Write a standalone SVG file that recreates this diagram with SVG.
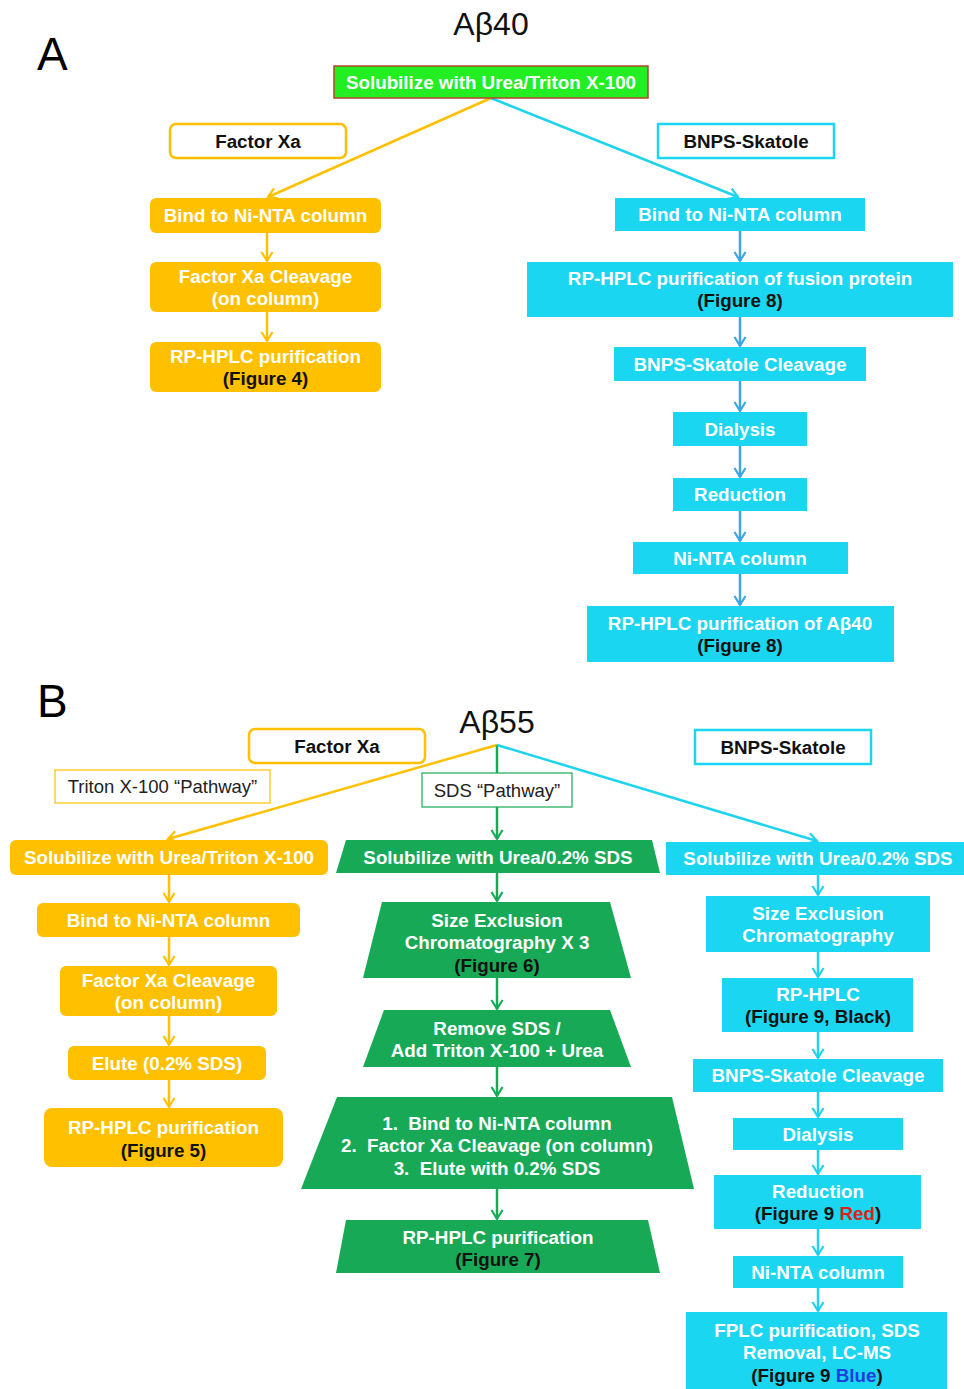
<svg xmlns="http://www.w3.org/2000/svg" width="964" height="1389" viewBox="0 0 964 1389">
<style>
text{font-family:"Liberation Sans",Arial,sans-serif}
.big{font-size:46px;fill:#000}
.ttl{font-size:32px;fill:#111;text-anchor:middle}
.t{font-size:18.8px;font-weight:bold;fill:#fff;text-anchor:middle}
.k{fill:#111}
.lab{font-size:18.8px;font-weight:bold;fill:#111;text-anchor:middle}
.pw{font-size:18.5px;fill:#222;text-anchor:middle}
.or{fill:#ffc000}
.cy{fill:#1bd6f0}
.gr{fill:#18a957}
.lo{fill:none;stroke:#ffc000;stroke-width:2.5}
.lc{fill:none;stroke:#1dd3ee;stroke-width:2.5}
.lb{fill:none;stroke:#3aa6e4;stroke-width:2.5}
.lg{fill:none;stroke:#18a957;stroke-width:2.5}
</style>
<defs>
<marker id="ao" markerWidth="14" markerHeight="14" refX="11" refY="7" orient="auto" markerUnits="userSpaceOnUse"><path d="M2,1.5 L11,7 L2,12.5" fill="none" stroke="#ffc000" stroke-width="2.2"/></marker>
<marker id="ac" markerWidth="14" markerHeight="14" refX="11" refY="7" orient="auto" markerUnits="userSpaceOnUse"><path d="M2,1.5 L11,7 L2,12.5" fill="none" stroke="#1dd3ee" stroke-width="2.2"/></marker>
<marker id="ab" markerWidth="14" markerHeight="14" refX="11" refY="7" orient="auto" markerUnits="userSpaceOnUse"><path d="M2,1.5 L11,7 L2,12.5" fill="none" stroke="#3aa6e4" stroke-width="2.2"/></marker>
<marker id="ag" markerWidth="14" markerHeight="14" refX="11" refY="7" orient="auto" markerUnits="userSpaceOnUse"><path d="M2,1.5 L11,7 L2,12.5" fill="none" stroke="#18a957" stroke-width="2.2"/></marker>
</defs>
<rect width="964" height="1389" fill="#fff"/>

<text class="big" x="37" y="70">A</text>
<text class="ttl" x="491" y="35">Aβ40</text>
<text class="big" x="37" y="717">B</text>
<text class="ttl" x="497" y="733">Aβ55</text>

<g id="connectors">
<line class="lo" x1="491" y1="98" x2="268" y2="197" marker-end="url(#ao)"/>
<line class="lc" x1="491" y1="98" x2="738" y2="197" marker-end="url(#ac)"/>
<line class="lo" x1="267" y1="233" x2="267" y2="261" marker-end="url(#ao)"/>
<line class="lo" x1="267" y1="312" x2="267" y2="341" marker-end="url(#ao)"/>
<line class="lb" x1="740" y1="231" x2="740" y2="261" marker-end="url(#ab)"/>
<line class="lb" x1="740" y1="317" x2="740" y2="346" marker-end="url(#ab)"/>
<line class="lb" x1="740" y1="381" x2="740" y2="411" marker-end="url(#ab)"/>
<line class="lb" x1="740" y1="446" x2="740" y2="477" marker-end="url(#ab)"/>
<line class="lb" x1="740" y1="511" x2="740" y2="541" marker-end="url(#ab)"/>
<line class="lb" x1="740" y1="574" x2="740" y2="605" marker-end="url(#ab)"/>

<line class="lo" x1="497" y1="745" x2="168" y2="839" marker-end="url(#ao)"/>
<line class="lg" x1="497" y1="745" x2="497" y2="839" marker-end="url(#ag)"/>
<line class="lc" x1="497" y1="745" x2="817" y2="841" marker-end="url(#ac)"/>
<line class="lo" x1="169" y1="875" x2="169" y2="902" marker-end="url(#ao)"/>
<line class="lo" x1="169" y1="937" x2="169" y2="965" marker-end="url(#ao)"/>
<line class="lo" x1="169" y1="1016" x2="169" y2="1045" marker-end="url(#ao)"/>
<line class="lo" x1="169" y1="1080" x2="169" y2="1107" marker-end="url(#ao)"/>
<line class="lg" x1="497" y1="873" x2="497" y2="901" marker-end="url(#ag)"/>
<line class="lg" x1="497" y1="978" x2="497" y2="1009" marker-end="url(#ag)"/>
<line class="lg" x1="497" y1="1067" x2="497" y2="1096" marker-end="url(#ag)"/>
<line class="lg" x1="497" y1="1189" x2="497" y2="1219" marker-end="url(#ag)"/>
<line class="lc" x1="818" y1="875" x2="818" y2="895" marker-end="url(#ac)"/>
<line class="lc" x1="818" y1="952" x2="818" y2="977" marker-end="url(#ac)"/>
<line class="lc" x1="818" y1="1032" x2="818" y2="1058" marker-end="url(#ac)"/>
<line class="lc" x1="818" y1="1092" x2="818" y2="1117" marker-end="url(#ac)"/>
<line class="lc" x1="818" y1="1150" x2="818" y2="1174" marker-end="url(#ac)"/>
<line class="lc" x1="818" y1="1229" x2="818" y2="1255" marker-end="url(#ac)"/>
<line class="lc" x1="818" y1="1288" x2="818" y2="1311" marker-end="url(#ac)"/>
</g>

<!-- Part A -->
<g id="a-root"><rect x="334" y="66" width="314" height="32" fill="#22ee22" stroke="#b5452a" stroke-width="1.5"/><text class="t" x="491" y="88.5">Solubilize with Urea/Triton X-100</text></g>
<g id="a-factorxa"><rect x="170" y="124" width="176" height="34" rx="6" fill="#fff" stroke="#ffc000" stroke-width="2.5"/><text class="lab" x="258" y="148">Factor Xa</text></g>
<g id="a-bnps"><rect x="658" y="124" width="176" height="34" fill="#fff" stroke="#1bd6f0" stroke-width="2.5"/><text class="lab" x="746" y="148">BNPS-Skatole</text></g>

<g id="a-l1"><rect class="or" x="150" y="198" width="231" height="35" rx="6"/><text class="t" x="265.5" y="222">Bind to Ni-NTA column</text></g>
<g id="a-l2"><rect class="or" x="150" y="262" width="231" height="50" rx="6"/><text class="t" x="265.5" y="283">Factor Xa Cleavage</text><text class="t" x="265.5" y="305">(on column)</text></g>
<g id="a-l3"><rect class="or" x="150" y="342" width="231" height="50" rx="6"/><text class="t" x="265.5" y="363">RP-HPLC purification</text><text class="t k" x="265.5" y="385">(Figure 4)</text></g>

<g id="a-r1"><rect class="cy" x="615" y="198" width="250" height="33"/><text class="t" x="740" y="221">Bind to Ni-NTA column</text></g>
<g id="a-r2"><rect class="cy" x="527" y="262" width="426" height="55"/><text class="t" x="740" y="285">RP-HPLC purification of fusion protein</text><text class="t k" x="740" y="307">(Figure 8)</text></g>
<g id="a-r3"><rect class="cy" x="614" y="347" width="252" height="34"/><text class="t" x="740" y="370.5">BNPS-Skatole Cleavage</text></g>
<g id="a-r4"><rect class="cy" x="673" y="412" width="134" height="34"/><text class="t" x="740" y="435.5">Dialysis</text></g>
<g id="a-r5"><rect class="cy" x="673" y="478" width="134" height="33"/><text class="t" x="740" y="501">Reduction</text></g>
<g id="a-r6"><rect class="cy" x="633" y="542" width="215" height="32"/><text class="t" x="740" y="565">Ni-NTA column</text></g>
<g id="a-r7"><rect class="cy" x="587" y="606" width="307" height="56"/><text class="t" x="740" y="630">RP-HPLC purification of Aβ40</text><text class="t k" x="740" y="652">(Figure 8)</text></g>

<!-- Part B -->
<g id="b-factorxa"><rect x="249" y="729" width="176" height="34" rx="6" fill="#fff" stroke="#ffc000" stroke-width="2.5"/><text class="lab" x="337" y="753">Factor Xa</text></g>
<g id="b-bnps"><rect x="695" y="730" width="176" height="34" fill="#fff" stroke="#1bd6f0" stroke-width="2.5"/><text class="lab" x="783" y="754">BNPS-Skatole</text></g>
<g id="b-triton"><rect x="55" y="770" width="215" height="33" fill="#fff" stroke="#ffc000" stroke-width="1.2"/><text class="pw" x="162.5" y="793">Triton X-100 “Pathway”</text></g>
<g id="b-sds"><rect x="422" y="773" width="150" height="34" fill="#fff" stroke="#18a957" stroke-width="1.2"/><text class="pw" x="497" y="797">SDS “Pathway”</text></g>

<g id="b-l1"><rect class="or" x="10" y="840" width="318" height="35" rx="6"/><text class="t" x="169" y="864">Solubilize with Urea/Triton X-100</text></g>
<g id="b-l2"><rect class="or" x="37" y="903" width="263" height="34" rx="6"/><text class="t" x="168.5" y="927">Bind to Ni-NTA column</text></g>
<g id="b-l3"><rect class="or" x="60" y="966" width="217" height="50" rx="6"/><text class="t" x="168.5" y="987">Factor Xa Cleavage</text><text class="t" x="168.5" y="1009">(on column)</text></g>
<g id="b-l4"><rect class="or" x="68" y="1046" width="198" height="34" rx="6"/><text class="t" x="167" y="1070">Elute (0.2% SDS)</text></g>
<g id="b-l5"><rect class="or" x="44" y="1108" width="239" height="59" rx="8"/><text class="t" x="163.5" y="1134">RP-HPLC purification</text><text class="t k" x="163.5" y="1157">(Figure 5)</text></g>

<g id="b-m1"><polygon class="gr" points="346,840 652,840 660,873 336,873"/><text class="t" x="498" y="863.5">Solubilize with Urea/0.2% SDS</text></g>
<g id="b-m2"><polygon class="gr" points="382,902 610,902 631,978 363,978"/><text class="t" x="497" y="927">Size Exclusion</text><text class="t" x="497" y="949">Chromatography X 3</text><text class="t k" x="497" y="972">(Figure 6)</text></g>
<g id="b-m3"><polygon class="gr" points="384,1010 610,1010 631,1067 363,1067"/><text class="t" x="497" y="1035">Remove SDS /</text><text class="t" x="497" y="1057">Add Triton X-100 + Urea</text></g>
<g id="b-m4"><polygon class="gr" points="337,1097 672,1097 694,1189 301,1189"/><text class="t" x="497" y="1130" xml:space="preserve">1.  Bind to Ni-NTA column</text><text class="t" x="497" y="1152" xml:space="preserve">2.  Factor Xa Cleavage (on column)</text><text class="t" x="497" y="1175" xml:space="preserve">3.  Elute with 0.2% SDS</text></g>
<g id="b-m5"><polygon class="gr" points="346,1220 648,1220 660,1273 336,1273"/><text class="t" x="498" y="1244">RP-HPLC purification</text><text class="t k" x="498" y="1266">(Figure 7)</text></g>

<g id="b-r1"><rect class="cy" x="666" y="842" width="298" height="33"/><text class="t" x="818" y="865">Solubilize with Urea/0.2% SDS</text></g>
<g id="b-r2"><rect class="cy" x="706" y="896" width="224" height="56"/><text class="t" x="818" y="920">Size Exclusion</text><text class="t" x="818" y="942">Chromatography</text></g>
<g id="b-r3"><rect class="cy" x="722" y="978" width="191" height="54"/><text class="t" x="818" y="1001">RP-HPLC</text><text class="t k" x="818" y="1023">(Figure 9, Black)</text></g>
<g id="b-r4"><rect class="cy" x="693" y="1059" width="250" height="33"/><text class="t" x="818" y="1082">BNPS-Skatole Cleavage</text></g>
<g id="b-r5"><rect class="cy" x="733" y="1118" width="170" height="32"/><text class="t" x="818" y="1141">Dialysis</text></g>
<g id="b-r6"><rect class="cy" x="714" y="1175" width="207" height="54"/><text class="t" x="818" y="1198">Reduction</text><text class="t k" x="818" y="1220">(Figure 9 <tspan fill="#e0201a">Red</tspan>)</text></g>
<g id="b-r7"><rect class="cy" x="733" y="1256" width="170" height="32"/><text class="t" x="818" y="1279">Ni-NTA column</text></g>
<g id="b-r8"><rect class="cy" x="686" y="1312" width="261" height="77"/><text class="t" x="817" y="1337">FPLC purification, SDS</text><text class="t" x="817" y="1359">Removal, LC-MS</text><text class="t k" x="817" y="1382">(Figure 9 <tspan fill="#1f3ee0">Blue</tspan>)</text></g>
</svg>
